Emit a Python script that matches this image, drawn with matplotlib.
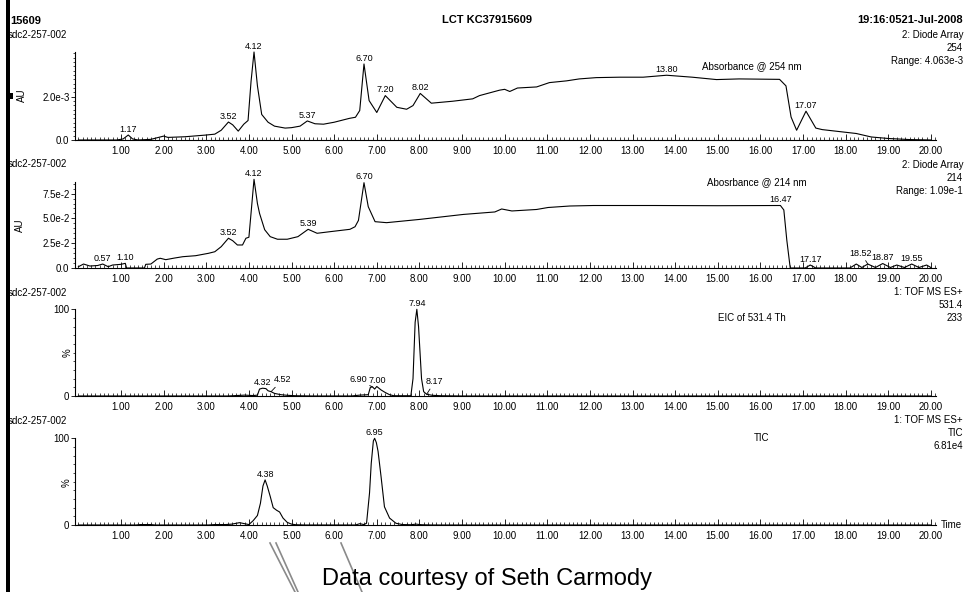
import numpy as np
import matplotlib
matplotlib.use('Agg')
import matplotlib.pyplot as plt
from matplotlib.ticker import FixedLocator, MultipleLocator
from matplotlib.patches import Rectangle
from matplotlib.lines import Line2D

plt.rcParams['font.family'] = ['Liberation Sans', 'DejaVu Sans']

# --- data (time in min) ---
uv254_t = [0.0, 0.9, 1.05, 1.17, 1.27, 1.4, 1.7, 2.0, 2.1, 2.5, 3.0, 3.2, 3.35, 3.52,
           3.62, 3.75, 3.88, 3.98, 4.05, 4.12, 4.2, 4.3, 4.45, 4.6, 4.85, 5.0, 5.2,
           5.37, 5.55, 5.75, 6.0, 6.36, 6.5, 6.6, 6.70, 6.82, 7.0, 7.20, 7.47, 7.7,
           7.85, 8.02, 8.28, 8.78, 9.25, 9.41, 9.88, 10.0, 10.12, 10.3, 10.75, 11.05,
           11.45, 11.75, 12.15, 12.7, 13.25, 13.80, 14.4, 14.97, 15.5, 16.45, 16.6,
           16.72, 16.85, 17.07, 17.3, 17.45, 18.25, 18.6, 19.0, 19.5, 20.0]
uv254_v = [0.0, 0.0, 0.05, 0.23, 0.05, 0.0, 0.03, 0.18, 0.12, 0.15, 0.23, 0.27, 0.45, 0.83,
           0.70, 0.41, 0.73, 0.90, 2.70, 4.063, 2.50, 1.18, 0.82, 0.64, 0.55, 0.57, 0.64,
           0.88, 0.75, 0.73, 0.82, 1.00, 1.05, 1.36, 3.51, 1.82, 1.27, 2.05, 1.51, 1.42,
           1.59, 2.15, 1.70, 1.79, 1.90, 2.05, 2.30, 2.34, 2.24, 2.40, 2.45, 2.65,
           2.73, 2.82, 2.88, 2.90, 2.90, 2.99, 2.90, 2.79, 2.82, 2.80, 2.50,
           1.06, 0.45, 1.33, 0.55, 0.48, 0.30, 0.14, 0.07, 0.02, 0.0]
uv254_v = [v * 1e-3 for v in uv254_v]

uv214_t = [0.0, 0.12, 0.27, 0.45, 0.57, 0.7, 0.8, 1.0, 1.10, 1.13, 1.55, 1.58, 1.7, 1.85,
           1.92, 2.05, 2.25, 2.45, 2.75, 3.05, 3.2, 3.35, 3.52, 3.62, 3.73, 3.85, 3.93,
           4.0, 4.06, 4.12, 4.2, 4.25, 4.37, 4.5, 4.67, 4.9, 5.15, 5.39, 5.6, 5.9, 6.37,
           6.49, 6.57, 6.70, 6.8, 6.96, 7.23, 8.01, 9.03, 9.77, 9.93, 10.17, 10.75,
           11.02, 11.53, 12.08, 13.5, 15.0, 16.47, 16.55, 16.62, 16.7, 17.05, 17.17,
           17.3, 18.1, 18.25, 18.38, 18.52, 18.7, 18.87, 19.05, 19.2, 19.38, 19.55,
           19.72, 19.9, 20.0]
uv214_v = [1.3, 4.0, 2.0, 2.5, 4.0, 1.3, 3.0, 3.7, 4.7, 0.0, 0.0, 3.7, 4.0, 9.0,
           9.8, 8.4, 10.0, 11.4, 12.4, 14.8, 16.4, 21.5, 30.0, 27.5, 23.2, 23.2, 30.0,
           31.0, 60.0, 89.4, 65.0, 55.0, 38.6, 31.6, 29.0, 29.0, 31.6, 39.0, 35.0, 36.6, 39.0,
           41.6, 48.0, 86.0, 61.8, 46.7, 45.7, 49.0, 54.0, 56.5, 59.5, 57.5, 59.0,
           61.0, 62.5, 63.0, 63.0, 62.8, 63.0, 58.5, 28.0, 0.0, 0.0, 3.0,
           0.0, 0.0, 4.0, 0.5, 4.0, 0.5, 4.5, 0.5, 3.0, 0.5, 4.0,
           0.5, 3.0, 0.5]
uv214_v = [v * 1e-3 for v in uv214_v]

eic_t = [0.0, 3.5, 3.7, 3.9, 4.1, 4.2, 4.25, 4.32, 4.4, 4.45, 4.52, 4.6, 4.75, 4.9, 5.1,
         5.5, 6.4, 6.6, 6.8, 6.85, 6.90, 6.95, 7.00, 7.1, 7.2, 7.3, 7.4, 7.8, 7.85,
         7.9, 7.94, 7.98, 8.05, 8.1, 8.17, 8.3, 8.5, 9.0, 20.0]
eic_v = [0, 0, 0.5, 1, 0.5, 1, 8, 9, 8.5, 6, 5, 3, 1.5, 0.8, 0.3,
         0, 0, 1, 1.5, 10, 10.5, 8, 11, 7, 4, 1.5, 0.3, 0.3, 20,
         85, 100, 80, 20, 5, 2, 0.8, 0.3, 0, 0]

tic_t = [0.0, 1.35, 1.45, 1.7, 1.8, 3.05, 3.2, 3.45, 3.6, 3.78, 3.9, 4.0, 4.1, 4.2, 4.27,
         4.33, 4.38, 4.43, 4.5, 4.57, 4.65, 4.72, 4.8, 4.9, 5.0, 5.1, 5.3, 6.5, 6.6,
         6.7, 6.76, 6.83, 6.87, 6.92, 6.95, 6.99, 7.03, 7.1, 7.18, 7.3, 7.45, 7.6,
         7.8, 7.92, 8.05, 8.3, 20.0]
tic_v = [0, 0, 0.5, 0.5, 0, 0, 0.5, 0.5, 1, 2.7, 1.5, 0.5, 5, 11, 25,
         45, 52, 45, 33, 20, 17, 15, 8, 3, 1, 0.3, 0, 0, 1.5,
         0.5, 2, 37, 71, 97, 100, 95, 85, 56, 21, 8, 2, 0.5,
         0.3, 1, 0.3, 0, 0]

x_ticks = list(range(1, 21))
x_tick_labels = ['%.2f' % t for t in x_ticks]

W, H = 964, 592
fig = plt.figure(figsize=(W / 100, H / 100), dpi=100)


def px_box(x0, top, x1, bottom):
    return [x0 / W, 1 - bottom / H, (x1 - x0) / W, (bottom - top) / H]


def ftext(x, y, s, **kw):
    kw.setdefault('fontsize', 7)
    kw.setdefault('va', 'center')
    fig.text(x / W, 1 - y / H, s, **kw)


def setup(ax, ymax, yticks, ylabels, yminor):
    ax.set_xlim(-0.08, 20.12)
    ax.set_ylim(0, ymax)
    for s in ['top', 'right']:
        ax.spines[s].set_visible(False)
    for s in ['left', 'bottom']:
        ax.spines[s].set_linewidth(0.8)
    ax.xaxis.set_major_locator(FixedLocator(x_ticks))
    ax.set_xticklabels(x_tick_labels)
    ax.xaxis.set_minor_locator(MultipleLocator(0.1))
    ax.yaxis.set_major_locator(FixedLocator(yticks))
    ax.set_yticklabels(ylabels)
    ax.yaxis.set_minor_locator(MultipleLocator(yminor))
    ax.tick_params(axis='x', which='major', direction='in', length=4.5, width=0.6,
                   labelsize=7, pad=4)
    ax.tick_params(axis='x', which='minor', direction='in', length=2.2, width=0.5)
    ax.tick_params(axis='y', which='major', direction='out', length=3, width=0.6,
                   labelsize=7, pad=1)
    ax.tick_params(axis='y', which='minor', direction='out', length=1.8, width=0.5)
    ax.patch.set_visible(False)


def label_peaks(ax, t, v, peaks):
    for txt, pt, dx, dy in peaks:
        y = np.interp(pt, t, v)
        if dx == 0 and dy == 0:
            ax.annotate(txt, (pt, y), xytext=(0, 1), textcoords='offset points',
                        ha='center', va='bottom', fontsize=6.5, annotation_clip=False)
        else:
            ax.annotate(txt, (pt, y), xytext=(dx, dy), textcoords='offset points',
                        ha='center', va='center', fontsize=6.5, annotation_clip=False,
                        arrowprops=dict(arrowstyle='-', lw=0.6, color='black',
                                        shrinkA=0, shrinkB=0))


# panel 1 : absorbance 254 nm
ax1 = fig.add_axes(px_box(75, 52, 936, 140))
setup(ax1, 4.063e-3, [0, 2e-3], ['0.0', '2.0e-3'], 0.2e-3)
ax1.plot(uv254_t, uv254_v, color='black', lw=0.8, clip_on=False)
label_peaks(ax1, uv254_t, uv254_v,
            [('1.17', 1.17, 0, 0), ('3.52', 3.52, 0, 0), ('4.12', 4.12, 0, 0),
             ('5.37', 5.37, 0, 0), ('6.70', 6.70, 0, 0), ('7.20', 7.20, 0, 0),
             ('8.02', 8.02, 0, 0), ('13.80', 13.80, 0, 0), ('17.07', 17.07, 0, 0)])

# panel 2 : absorbance 214 nm
ax2 = fig.add_axes(px_box(75, 181.7, 936, 268))
setup(ax2, 0.087, [0, 0.025, 0.05, 0.075], ['0.0', '2.5e-2', '5.0e-2', '7.5e-2'], 0.005)
ax2.plot(uv214_t, uv214_v, color='black', lw=0.8, clip_on=False)
label_peaks(ax2, uv214_t, uv214_v,
            [('0.57', 0.57, 0, 0), ('1.10', 1.10, 0, 0), ('3.52', 3.52, 0, 0),
             ('4.12', 4.12, 0, 0), ('5.39', 5.39, 0, 0), ('6.70', 6.70, 0, 0),
             ('16.47', 16.47, 0, 0), ('17.17', 17.17, 0, 0), ('18.52', 18.52, -4.9, 7.7),
             ('18.87', 18.87, 0, 0), ('19.55', 19.55, 0, 0)])

# panel 3 : EIC
ax3 = fig.add_axes(px_box(75, 309.3, 936, 396))
setup(ax3, 100, [0, 100], ['0', '100'], 10)
ax3.plot(eic_t, eic_v, color='black', lw=0.8, clip_on=False)
label_peaks(ax3, eic_t, eic_v,
            [('4.32', 4.32, 0, 0), ('4.52', 4.52, 8, 8.4), ('6.90', 6.90, -10.4, 5),
             ('7.00', 7.00, 0, 0), ('7.94', 7.94, 0, 0), ('8.17', 8.17, 5.8, 9)])

# panel 4 : TIC
ax4 = fig.add_axes(px_box(75, 438.3, 936, 525))
setup(ax4, 100, [0, 100], ['0', '100'], 10)
ax4.plot(tic_t, tic_v, color='black', lw=0.8, clip_on=False)
label_peaks(ax4, tic_t, tic_v, [('4.38', 4.38, 0, 0), ('6.95', 6.95, 0, 0)])

# header and trace descriptions
ftext(10, 21, '15609', fontsize=8, fontweight='bold')
ftext(487, 20, 'LCT KC37915609', fontsize=8, fontweight='bold', ha='center')
ftext(963, 20, '19:16:0521-Jul-2008', fontsize=8, fontweight='bold', ha='right')

for y in [35, 164.3, 293.3, 421]:
    ftext(8, y, 'sdc2-257-002')

right_blocks = [(35, ['2: Diode Array', '254', 'Range: 4.063e-3']),
                (165, ['2: Diode Array', '214', 'Range: 1.09e-1']),
                (292, ['1: TOF MS ES+', '531.4', '233']),
                (420, ['1: TOF MS ES+', 'TIC', '6.81e4'])]
for y0, lines in right_blocks:
    for i, s in enumerate(lines):
        ftext(963, y0 + i * 12.8, s, ha='right')

ftext(752, 66, 'Absorbance @ 254 nm', ha='center')
ftext(757, 182.3, 'Abosrbance @ 214 nm', ha='center')
ftext(752, 317.7, 'EIC of 531.4 Th', ha='center')
ftext(762, 437.7, 'TIC', ha='center')

ftext(22, 95, 'AU', rotation=90, ha='center')
ftext(20, 225, 'AU', rotation=90, ha='center')
ftext(68, 352.7, '%', rotation=90, ha='center')
ftext(67, 482.7, '%', rotation=90, ha='center')
ftext(941, 525, 'Time')

fig.text(486.5 / W, 1 - 585 / H, 'Data courtesy of Seth Carmody', fontsize=17,
         ha='center', va='baseline')

# frame bar on the left and decorative gray strokes
fig.add_artist(Rectangle((6 / W, 0), 4 / W, 1, transform=fig.transFigure,
                         color='black', lw=0))
fig.add_artist(Rectangle((6 / W, 1 - 99 / H), 7 / W, 6 / H, transform=fig.transFigure,
                         color='black', lw=0))
for (xa, ya, xb, yb) in [(270, 543, 295, 592), (276, 543, 298, 592), (341, 543, 362, 592)]:
    fig.add_artist(Line2D([xa / W, xb / W], [1 - ya / H, 1 - yb / H],
                          transform=fig.transFigure, color='#8a8a8a', lw=1.2))

fig.savefig('out.png', dpi=100)
